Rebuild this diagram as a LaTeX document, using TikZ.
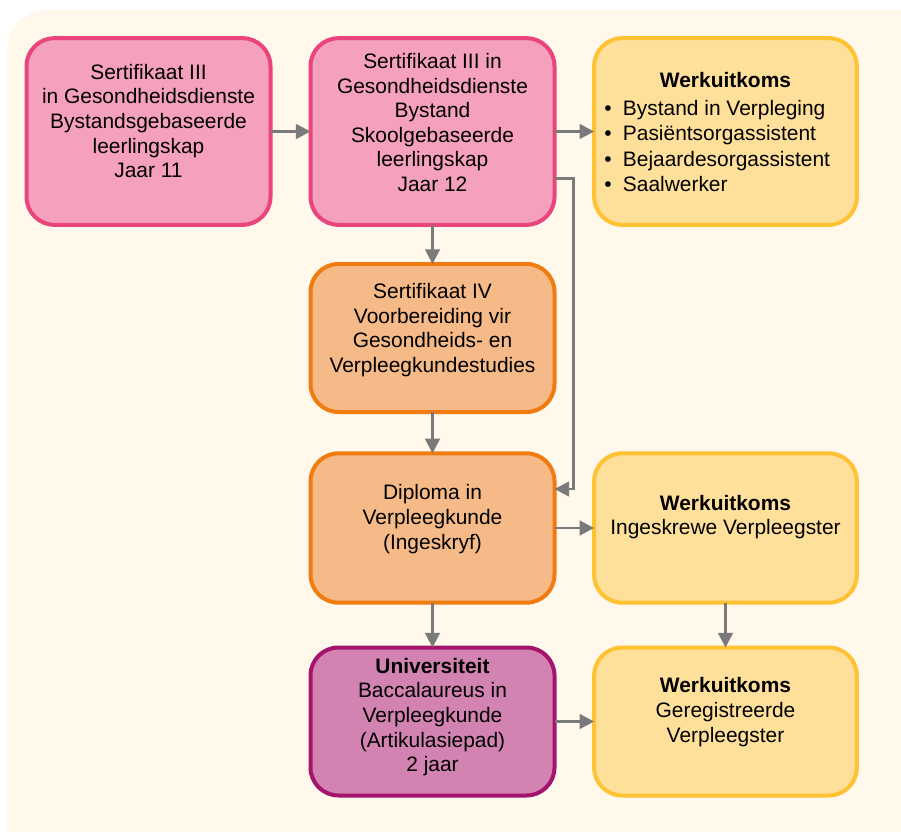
\documentclass[tikz,border=0pt]{standalone}
\usepackage{fontspec}
\setmainfont{Liberation Sans}
\usetikzlibrary{arrows.meta,calc}
\definecolor{bgc}{HTML}{FFF8EB}
\definecolor{pinkf}{HTML}{F5A0BC}
\definecolor{pinkd}{HTML}{E9457C}
\definecolor{orf}{HTML}{F5BA87}
\definecolor{ord}{HTML}{F07B10}
\definecolor{yelf}{HTML}{FFE09A}
\definecolor{yeld}{HTML}{FFC232}
\definecolor{purf}{HTML}{D283B1}
\definecolor{purd}{HTML}{A5146C}
\definecolor{arrc}{HTML}{7A7A7A}
\begin{document}
\begin{tikzpicture}[x=0.75pt,y=-0.75pt,
  box/.style={draw,line width=3pt,rounded corners=21pt,inner sep=0pt,outer sep=0pt},
  pinkbox/.style={box,fill=pinkf,draw=pinkd,minimum width=183pt,minimum height=140pt},
  orbox/.style={box,fill=orf,draw=ord,minimum width=183pt},
  yelbox/.style={box,fill=yelf,draw=yeld,minimum width=197pt},
  purbox/.style={box,fill=purf,draw=purd,minimum width=183pt},
  txt/.style={align=center,inner sep=0pt,font=\fontsize{15.7pt}{18.45pt}\selectfont},
  arr/.style={draw=arrc,line width=2pt,-{Triangle[length=11pt,width=11pt]}}]
\useasboundingbox (0,0) rectangle (901,832);
\fill[bgc,rounded corners=30pt] (7,10) rectangle (941,872);
% boxes
\node[pinkbox] (b1) at (148.5,131.5) {};
\node[pinkbox] (b2) at (432.5,131.5) {};
\node[yelbox,minimum height=140pt] (b3) at (725.5,131.5) {};
\node[orbox,minimum height=111pt] (b4) at (432.5,338) {};
\node[orbox,minimum height=112pt] (b5) at (432.5,528) {};
\node[yelbox,minimum height=112pt] (b6) at (725.5,528) {};
\node[purbox,minimum height=111pt] (b7) at (432.5,721.5) {};
\node[yelbox,minimum height=111pt] (b8) at (725.5,721.5) {};
% texts
\node[txt] (t1) at (148.5,121) {Sertifikaat III\\in Gesondheidsdienste\\Bystandsgebaseerde\\leerlingskap\\Jaar 11};
\node[txt] (t2) at (432.5,122.5) {Sertifikaat III in\\Gesondheidsdienste\\Bystand\\Skoolgebaseerde\\leerlingskap\\Jaar 12};
\node[txt] (t3a) at (725.5,80) {\textbf{Werkuitkoms}};
\node[txt,align=left,anchor=west,font=\fontsize{15.7pt}{19.2pt}\selectfont] (t3b) at (604,146) {•\hspace{8.5pt}Bystand in Verpleging\\•\hspace{8.5pt}Pasiëntsorgassistent\\•\hspace{8.5pt}Bejaardesorgassistent\\•\hspace{8.5pt}Saalwerker};
\node[txt] (t4) at (432.5,330) {Sertifikaat IV\\Voorbereiding vir\\Gesondheids- en\\Verpleegkundestudies};
\node[txt] (t5) at (432.5,519) {Diploma in\\Verpleegkunde\\(Ingeskryf)};
\node[txt] (t6) at (725.5,517) {\textbf{Werkuitkoms}\\Ingeskrewe Verpleegster};
\node[txt] (t7) at (432.5,717) {\textbf{Universiteit}\\Baccalaureus in\\Verpleegkunde\\(Artikulasiepad)\\2 jaar};
\node[txt] (t8) at (725.5,712) {\textbf{Werkuitkoms}\\Geregistreerde\\Verpleegster};
% arrows
\draw[arr] (b1) -- (b2);
\draw[arr] (b2) -- (b3);
\draw[arr] (b2) -- (b4);
\draw[arr] (b4) -- (b5);
\draw[arr] (b5) -- (b6);
\draw[arr] (b5) -- (b7);
\draw[arr] (b6) -- (b8);
\draw[arr] (b7) -- (b8);
\coordinate (c1) at ($(b2.east)+(0,47)$);
\coordinate (c2) at ($(b5.east)+(0,-39)$);
\draw[arr] (c1) -- ++(19,0) |- (c2);
\end{tikzpicture}
\end{document}
